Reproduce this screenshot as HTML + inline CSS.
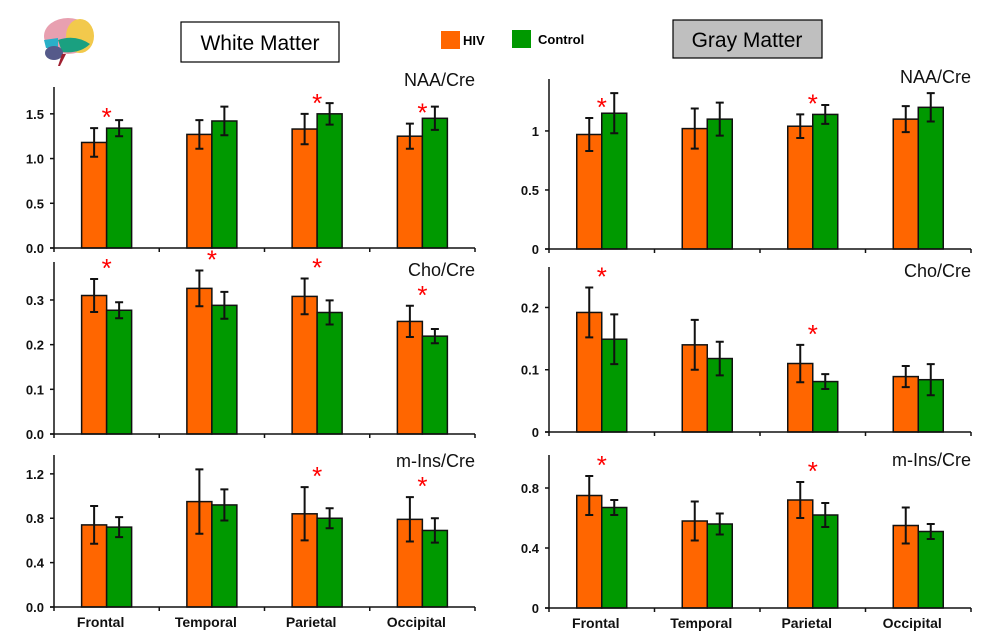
<!DOCTYPE html>
<html><head><meta charset="utf-8"><style>
body{margin:0;background:#fff;width:991px;height:643px;overflow:hidden;font-family:"Liberation Sans",Arial,sans-serif}
svg{display:block}
</style></head><body>
<svg id="chart" width="991" height="643" xmlns="http://www.w3.org/2000/svg">
<g>
<ellipse cx="68" cy="36" rx="24" ry="18" fill="#e8a0b0"/>
<ellipse cx="80" cy="36" rx="14" ry="17" fill="#f2c94c"/>
<path d="M44 40 L58 38 L58 48 L46 48Z" fill="#2ab0c8"/>
<path d="M58 40 Q75 34 90 44 Q80 54 62 52Z" fill="#1aa080"/>
<ellipse cx="54" cy="53" rx="9" ry="7" fill="#555a8a"/>
<path d="M62 54 L58 66 L60 66 L66 54Z" fill="#a02030"/>
</g>
<rect x="181" y="22" width="158" height="40" fill="#fff" stroke="#000" stroke-width="1.2"/>
<text x="260" y="50" font-size="21" text-anchor="middle">White Matter</text>
<rect x="673" y="20" width="149" height="38" fill="#bfbfbf" stroke="#000" stroke-width="1.2"/>
<text x="747" y="47" font-size="21" text-anchor="middle">Gray Matter</text>
<g>
<rect x="441" y="31" width="19" height="18" fill="#ff6600"/>
<text x="463" y="45" font-size="13" font-weight="bold">HIV</text>
<rect x="512" y="30" width="19" height="18" fill="#009900"/>
<text x="538" y="44" font-size="13" font-weight="bold">Control</text>
</g>
</svg>
<script>
const categories=["Frontal","Temporal","Parietal","Occipital"];
// White matter
const wmNaaHiv=[1.18,1.27,1.33,1.25], wmNaaHivErr=[0.16,0.16,0.17,0.14];
const wmNaaCtl=[1.34,1.42,1.50,1.45], wmNaaCtlErr=[0.09,0.16,0.12,0.13];
const wmNaaStar=[1,0,1,1];
const wmChoHiv=[0.310,0.326,0.308,0.252], wmChoHivErr=[0.037,0.040,0.040,0.035];
const wmChoCtl=[0.277,0.288,0.272,0.219], wmChoCtlErr=[0.018,0.030,0.027,0.016];
const wmChoStar=[1,1,1,1];
const wmInsHiv=[0.74,0.95,0.84,0.79], wmInsHivErr=[0.17,0.29,0.24,0.20];
const wmInsCtl=[0.72,0.92,0.80,0.69], wmInsCtlErr=[0.09,0.14,0.09,0.11];
const wmInsStar=[0,0,1,1];
// Gray matter
const gmNaaHiv=[0.97,1.02,1.04,1.10], gmNaaHivErr=[0.14,0.17,0.10,0.11];
const gmNaaCtl=[1.15,1.10,1.14,1.20], gmNaaCtlErr=[0.17,0.14,0.08,0.12];
const gmNaaStar=[1,0,1,0];
const gmChoHiv=[0.192,0.140,0.110,0.089], gmChoHivErr=[0.040,0.040,0.030,0.017];
const gmChoCtl=[0.149,0.118,0.081,0.084], gmChoCtlErr=[0.040,0.027,0.012,0.025];
const gmChoStar=[1,0,1,0];
const gmInsHiv=[0.75,0.58,0.72,0.55], gmInsHivErr=[0.13,0.13,0.12,0.12];
const gmInsCtl=[0.67,0.56,0.62,0.51], gmInsCtlErr=[0.05,0.07,0.08,0.05];
const gmInsStar=[1,0,1,0];
const wmNaaTicks=["0.0","0.5","1.0","1.5"], wmChoTicks=["0.0","0.1","0.2","0.3"], wmInsTicks=["0.0","0.4","0.8","1.2"];
const gmNaaTicks=["0","0.5","1"], gmChoTicks=["0","0.1","0.2"], gmInsTicks=["0","0.4","0.8"];

const svg=document.getElementById('chart');
const NS="http://www.w3.org/2000/svg";
function mk(tag,attrs,parent){const e=document.createElementNS(NS,tag);for(const k in attrs)e.setAttribute(k,attrs[k]);(parent||svg).appendChild(e);return e;}

const panels=[
 {name:"wm-naa",title:"NAA/Cre",x0:54,x1:475,yTop:87,y0:248,vmax:1.8,ticks:wmNaaTicks,hiv:wmNaaHiv,he:wmNaaHivErr,ctl:wmNaaCtl,ce:wmNaaCtlErr,star:wmNaaStar,ty:86},
 {name:"wm-cho",title:"Cho/Cre",x0:54,x1:475,yTop:262,y0:434,vmax:0.385,ticks:wmChoTicks,hiv:wmChoHiv,he:wmChoHivErr,ctl:wmChoCtl,ce:wmChoCtlErr,star:wmChoStar,ty:276},
 {name:"wm-mins",title:"m-Ins/Cre",x0:54,x1:475,yTop:455,y0:607,vmax:1.37,ticks:wmInsTicks,hiv:wmInsHiv,he:wmInsHivErr,ctl:wmInsCtl,ce:wmInsCtlErr,star:wmInsStar,ty:467},
 {name:"gm-naa",title:"NAA/Cre",x0:549,x1:971,yTop:79,y0:249,vmax:1.44,ticks:gmNaaTicks,hiv:gmNaaHiv,he:gmNaaHivErr,ctl:gmNaaCtl,ce:gmNaaCtlErr,star:gmNaaStar,ty:83},
 {name:"gm-cho",title:"Cho/Cre",x0:549,x1:971,yTop:267,y0:432,vmax:0.265,ticks:gmChoTicks,hiv:gmChoHiv,he:gmChoHivErr,ctl:gmChoCtl,ce:gmChoCtlErr,star:gmChoStar,ty:277},
 {name:"gm-mins",title:"m-Ins/Cre",x0:549,x1:971,yTop:455,y0:608,vmax:1.02,ticks:gmInsTicks,hiv:gmInsHiv,he:gmInsHivErr,ctl:gmInsCtl,ce:gmInsCtlErr,star:gmInsStar,ty:466}
];
panels.forEach(p=>{
 const g=mk('g',{});
 
 
 const ys=v=>p.y0-(v/p.vmax)*(p.y0-p.yTop);
 const cw=(p.x1-p.x0)/categories.length;
 const xc=i=>p.x0+cw*(i+0.5);
 const bw=25;
 // bars
 categories.forEach((c,i)=>{
  [[p.hiv,p.he,"#ff6600",-bw,"hiv"],[p.ctl,p.ce,"#009900",0,"control"]].forEach(([vals,errs,col,off,sn])=>{
   const v=vals[i],x=xc(i)+off;
   const r=mk('rect',{x:x,y:ys(v),width:bw,height:p.y0-ys(v),fill:col,stroke:"#111","stroke-width":1.5},g);
   
   
   const cx=x+bw/2,yh=ys(v+errs[i]),yl=ys(v-errs[i]);
   const eb=mk('path',{d:`M${cx} ${yh}V${yl}M${cx-4} ${yh}H${cx+4}M${cx-4} ${yl}H${cx+4}`,stroke:"#111","stroke-width":2,fill:"none"},g);
   
   
  });
  if(p.star[i]){
   const st=mk('text',{x:xc(i),y:ys(p.hiv[i]+p.he[i])-2,"font-size":26,fill:"#ff0000","text-anchor":"middle"},g);
   st.textContent="*";
   
   
  }
 });
 // axes
 const ax=mk('path',{d:`M${p.x0} ${p.yTop}V${p.y0}M${p.x0-4} ${p.y0}H${p.x1}`,stroke:"#111","stroke-width":1.5,fill:"none"},g);
 
 
 for(let i=0;i<=categories.length;i++){
  const t=mk('line',{x1:p.x0+cw*i,x2:p.x0+cw*i,y1:p.y0,y2:p.y0+4,stroke:"#111","stroke-width":1.5},g);
  
  
 }
 p.ticks.forEach(lbl=>{
  const v=parseFloat(lbl),y=ys(v);
  const tl=mk('line',{x1:p.x0-4,x2:p.x0,y1:y,y2:y,stroke:"#111","stroke-width":1.5},g);
  
  
  const tt=mk('text',{x:p.x0-10,y:y+5,"font-size":13,"font-weight":"bold","text-anchor":"end",fill:"#111"},g);
  tt.textContent=lbl;
  
  
 });
 const ti=mk('text',{x:p.x1,y:p.ty,"font-size":18,"text-anchor":"end",fill:"#111"},g);
 ti.textContent=p.title;
 
 
 if(p.name.endsWith('mins')){
  categories.forEach((c,i)=>{
   const cl=mk('text',{x:xc(i)-6,y:p.y0+20,"font-size":14,"font-weight":"bold","text-anchor":"middle",fill:"#111"},g);
   cl.textContent=c;
   
   
  });
 }
});
</script>
</body></html>
